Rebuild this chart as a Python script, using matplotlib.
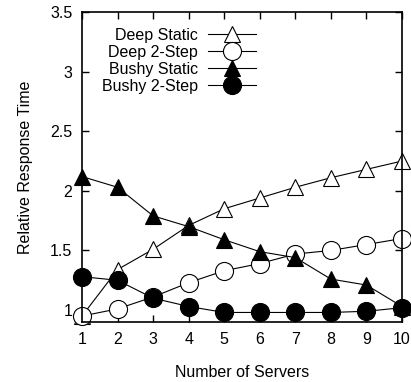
import matplotlib
matplotlib.use("Agg")
import matplotlib.pyplot as plt

plt.rcParams['font.family'] = ['Liberation Sans', 'DejaVu Sans']

servers = [1, 2, 3, 4, 5, 6, 7, 8, 9, 10]
deep_static = [0.95, 1.34, 1.51, 1.71, 1.85, 1.94, 2.03, 2.11, 2.18, 2.25]
deep_2step = [0.95, 1.01, 1.11, 1.23, 1.33, 1.39, 1.47, 1.50, 1.55, 1.60]
bushy_static = [2.12, 2.03, 1.79, 1.70, 1.59, 1.49, 1.44, 1.26, 1.21, 1.03]
bushy_2step = [1.28, 1.25, 1.10, 1.03, 0.98, 0.98, 0.98, 0.98, 0.99, 1.02]
labels = ['Deep Static', 'Deep 2-Step', 'Bushy Static', 'Bushy 2-Step']
yticks = [1, 1.5, 2, 2.5, 3, 3.5]
yticklabels = ['1', '1.5', '2', '2.5', '3', '3.5']

fig = plt.figure(figsize=(4.11, 3.82), dpi=100)
ax = fig.add_axes([82/411, 1-322/382, 320/411, 310/382])

series = [deep_static, deep_2step, bushy_static, bushy_2step]
markers = ['^', 'o', '^', 'o']
fills = ['white', 'white', 'black', 'black']
msizes = [11, 13, 11, 13]
handles = []
for s, m, fc, ms, lab in zip(series, markers, fills, msizes, labels):
    h, = ax.plot(servers, s, color='black', lw=0.8, marker=m, markersize=ms,
                 markerfacecolor=fc, markeredgecolor='black', markeredgewidth=0.8,
                 label=lab, clip_on=False)
    handles.append(h)

ax.set_xlim(1, 10)
ax.set_ylim(0.9, 3.5)
ax.set_xticks(servers)
ax.set_xticklabels([str(v) for v in servers])
ax.set_yticks(yticks)
ax.set_yticklabels(yticklabels)
ax.tick_params(direction='in', top=True, right=True, length=5, width=1,
               labelsize=11.5, pad=7)
for sp in ax.spines.values():
    sp.set_linewidth(1.2)
ax.set_xlabel('Number of Servers', fontsize=11.5, labelpad=13)
ax.set_ylabel('Relative Response Time', fontsize=11.5, labelpad=12)

leg = ax.legend(handles=handles, loc='upper left', bbox_to_anchor=(0.028, 0.985),
                frameon=False, markerfirst=False, fontsize=11.5,
                handlelength=3.0, handletextpad=0.6, labelspacing=0.12,
                borderaxespad=0.3)
for t in leg.get_texts():
    t.set_ha('right')
leg._legend_box.align = 'right'

fig.savefig('out.png', dpi=100)
